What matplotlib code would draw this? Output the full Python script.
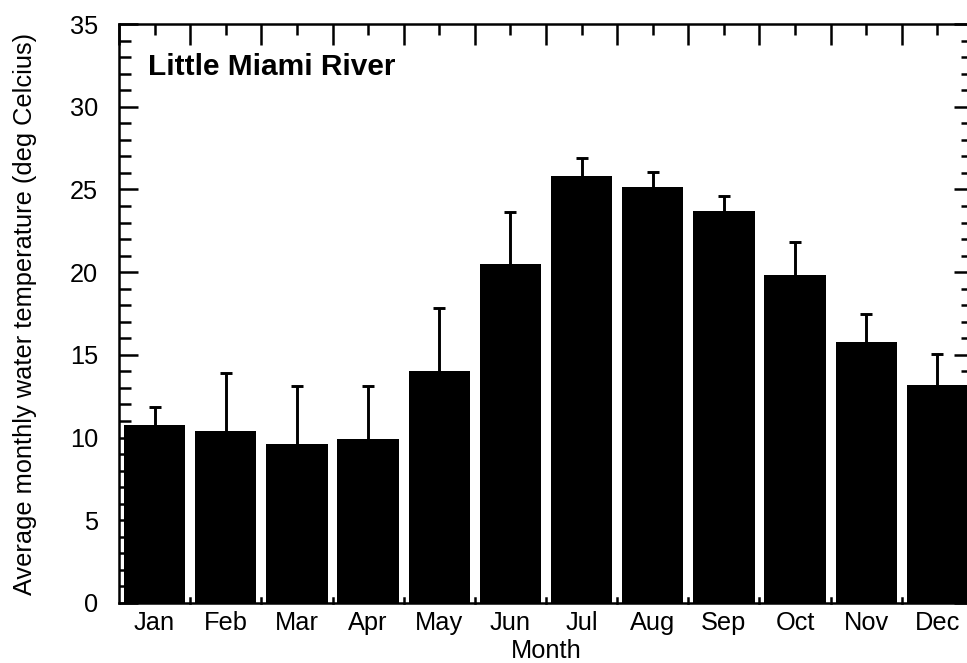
import matplotlib
matplotlib.use("Agg")
import matplotlib.pyplot as plt
from matplotlib.ticker import MultipleLocator, FixedLocator
import numpy as np

plt.rcParams['font.family'] = ['Liberation Sans', 'DejaVu Sans']

# Datos
months = ["Jan", "Feb", "Mar", "Apr", "May", "Jun",
          "Jul", "Aug", "Sep", "Oct", "Nov", "Dec"]
mean_temp = [10.76, 10.42, 9.61, 9.93, 14.0, 20.5,
             25.8, 25.15, 23.7, 19.81, 15.76, 13.18]
err_up = [1.07, 3.5, 3.51, 3.19, 3.82, 3.15,
          1.1, 0.91, 0.9, 2.04, 1.71, 1.86]

fig = plt.figure(figsize=(9.67, 6.63), dpi=100)
ax = fig.add_axes([119 / 967, 60 / 663, 854 / 967, 579 / 663])

x = np.arange(len(months)) + 0.5
mean_arr = np.array(mean_temp)
top_arr = mean_arr + np.array(err_up)
ax.bar(x, mean_arr, width=0.86, color="black", zorder=1)
# barras de error solo hacia arriba, con tapa
ax.vlines(x, mean_arr, top_arr, color="black", lw=2.1, zorder=0.5)
ax.plot(x, top_arr, ls="none", marker="_", ms=9.2, mew=2.1, color="black", zorder=0.6)

ax.set_xlim(0, 12)
ax.set_ylim(0, 35)

# Ejes y marcas
for s in ax.spines.values():
    s.set_linewidth(1.8)

ax.yaxis.set_major_locator(MultipleLocator(5))
ax.yaxis.set_minor_locator(MultipleLocator(1))
ax.tick_params(axis="y", which="major", direction="in", length=14, width=1.8,
               left=True, right=True, labelsize=18.3, pad=15)
ax.tick_params(axis="y", which="minor", direction="in", length=8.5, width=1.8,
               left=True, right=True)

# marcas del eje x: bordes en mayores, centros en menores
ax.xaxis.set_major_locator(FixedLocator(np.arange(0, 13)))
ax.xaxis.set_minor_locator(FixedLocator(x))
ax.tick_params(axis="x", which="major", direction="in", length=15, width=1.8,
               top=True, bottom=False, labelbottom=False)
ax.tick_params(axis="x", which="minor", direction="in", length=8, width=1.8,
               top=True, bottom=False, labelsize=18.3, labelbottom=True, pad=6)
ax.set_xticks(x, months, minor=True)

# marcas cortas abajo entre barras
for b in range(1, 12):
    ax.plot([b, b], [0, 0.3], color="black", lw=1.8, zorder=3, clip_on=False)

ax.set_xlabel("Month", fontsize=18.3, labelpad=3)
ax.set_ylabel("Average monthly water temperature (deg Celcius)", fontsize=18.3, labelpad=24)

ax.text(0.034, 0.926, "Little Miami River", transform=ax.transAxes,
        fontsize=21.5, fontweight="bold", va="center", ha="left")

fig.savefig("out.png", dpi=100)
